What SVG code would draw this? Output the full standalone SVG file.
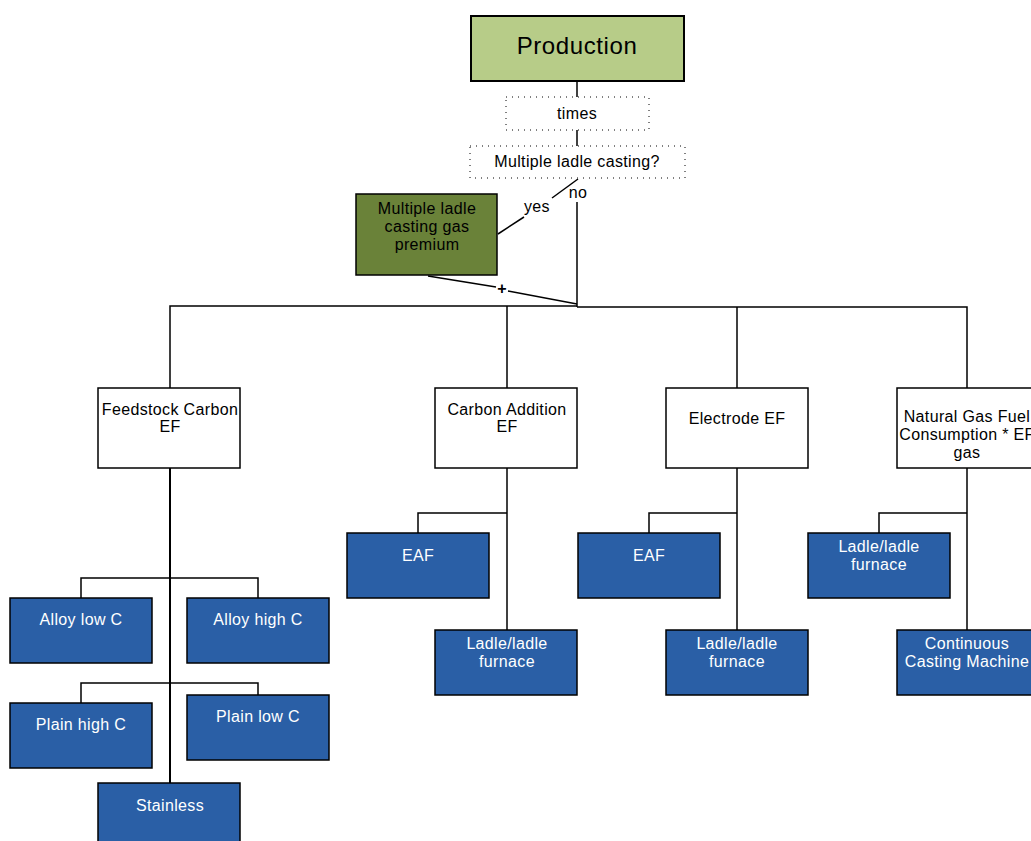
<svg xmlns="http://www.w3.org/2000/svg" width="1031" height="841" viewBox="0 0 1031 841">
  <style>
    text { font-family: "Liberation Sans", Arial, sans-serif; text-anchor: middle; }
    .lbl { font-size: 16px; letter-spacing: 0.35px; fill: #000; }
    .wlbl { font-size: 16px; letter-spacing: 0.35px; fill: #fff; }
    .white { fill: #fff; stroke: #000; stroke-width: 1.5; }
    .blue { fill: #2a5fa6; stroke: #000; stroke-width: 1.5; }
    .dotted { fill: #fff; stroke: #000; stroke-width: 1; stroke-dasharray: 1 5; }
    .wire { fill: none; stroke: #000; stroke-width: 1.5; }
  </style>
  <rect width="1031" height="841" fill="#fff"/>

  <!-- connectors -->
  <g id="connectors" class="wire">
    <line x1="577" y1="81" x2="577" y2="146"/>
    <line x1="578" y1="179" x2="552" y2="198"/>
    <line x1="524" y1="217" x2="498" y2="234"/>
    <line x1="577" y1="202" x2="577" y2="307"/>
    <line x1="428" y1="276" x2="496" y2="287"/>
    <line x1="508" y1="291" x2="577" y2="304"/>
    <polyline points="170,388 170,306 577,306"/>
    <polyline points="577,307 967,307 967,388"/>
    <line x1="507" y1="306" x2="507" y2="388"/>
    <line x1="737" y1="307" x2="737" y2="388"/>
    <!-- feedstock branches -->
    <line x1="170" y1="468" x2="170" y2="783" stroke-width="2"/>
    <polyline points="81,598 81,578 258,578 258,598"/>
    <polyline points="81,703 81,683 258,683 258,695"/>
    <!-- carbon addition branches -->
    <line x1="507" y1="468" x2="507" y2="630"/>
    <polyline points="418,533 418,513 507,513"/>
    <!-- electrode branches -->
    <line x1="737" y1="468" x2="737" y2="630"/>
    <polyline points="649,533 649,513 737,513"/>
    <!-- natural gas branches -->
    <line x1="967" y1="468" x2="967" y2="630"/>
    <polyline points="879,533 879,513 967,513"/>
  </g>
  <g id="edge-labels">
    <text class="lbl" x="537" y="212">yes</text>
    <text class="lbl" x="578" y="198">no</text>
    <text x="502" y="294" font-size="16" font-weight="bold">+</text>
  </g>

  <g id="production">
    <rect x="471" y="16" width="213" height="65" fill="#b7cc88" stroke="#000" stroke-width="2"/>
    <text x="577" y="54" font-size="24" letter-spacing="0.6">Production</text>
  </g>
  <g id="times">
    <rect class="dotted" x="506" y="97" width="143" height="33"/>
    <text class="lbl" x="577" y="119">times</text>
  </g>
  <g id="multiple-ladle">
    <rect class="dotted" x="470" y="146" width="215" height="32"/>
    <text class="lbl" x="577" y="167">Multiple ladle casting?</text>
  </g>
  <g id="gas-premium">
    <rect x="356" y="194" width="141" height="81" fill="#6a8239" stroke="#000" stroke-width="1.5"/>
    <text class="lbl" x="427" y="214">Multiple ladle</text>
    <text class="lbl" x="427" y="232">casting gas</text>
    <text class="lbl" x="427" y="250">premium</text>
  </g>

  <g id="feedstock">
    <rect class="white" x="98" y="388" width="142" height="80"/>
    <text class="lbl" x="170" y="415">Feedstock Carbon</text>
    <text class="lbl" x="170" y="432">EF</text>
  </g>
  <g id="carbon-addition">
    <rect class="white" x="435" y="388" width="142" height="80"/>
    <text class="lbl" x="507" y="415">Carbon Addition</text>
    <text class="lbl" x="507" y="432">EF</text>
  </g>
  <g id="electrode">
    <rect class="white" x="666" y="388" width="142" height="80"/>
    <text class="lbl" x="737" y="424">Electrode EF</text>
  </g>
  <g id="natural-gas">
    <rect class="white" x="897" y="388" width="142" height="80"/>
    <text class="lbl" x="967" y="422">Natural Gas Fuel</text>
    <text class="lbl" x="967" y="440">Consumption * EF</text>
    <text class="lbl" x="967" y="458">gas</text>
  </g>

  <g id="alloy-low">
    <rect class="blue" x="10" y="598" width="142" height="65"/>
    <text class="wlbl" x="81" y="625">Alloy low C</text>
  </g>
  <g id="alloy-high">
    <rect class="blue" x="187" y="598" width="142" height="65"/>
    <text class="wlbl" x="258" y="625">Alloy high C</text>
  </g>
  <g id="plain-high">
    <rect class="blue" x="10" y="703" width="142" height="65"/>
    <text class="wlbl" x="81" y="730">Plain high C</text>
  </g>
  <g id="plain-low">
    <rect class="blue" x="187" y="695" width="142" height="65"/>
    <text class="wlbl" x="258" y="722">Plain low C</text>
  </g>
  <g id="stainless">
    <rect class="blue" x="98" y="783" width="142" height="65"/>
    <text class="wlbl" x="170" y="811">Stainless</text>
  </g>

  <g id="ca-eaf">
    <rect class="blue" x="347" y="533" width="142" height="65"/>
    <text class="wlbl" x="418" y="561">EAF</text>
  </g>
  <g id="ca-ladle">
    <rect class="blue" x="435" y="630" width="142" height="65"/>
    <text class="wlbl" x="507" y="649">Ladle/ladle</text>
    <text class="wlbl" x="507" y="667">furnace</text>
  </g>
  <g id="el-eaf">
    <rect class="blue" x="578" y="533" width="142" height="65"/>
    <text class="wlbl" x="649" y="561">EAF</text>
  </g>
  <g id="el-ladle">
    <rect class="blue" x="666" y="630" width="142" height="65"/>
    <text class="wlbl" x="737" y="649">Ladle/ladle</text>
    <text class="wlbl" x="737" y="667">furnace</text>
  </g>
  <g id="ng-ladle">
    <rect class="blue" x="808" y="533" width="142" height="65"/>
    <text class="wlbl" x="879" y="552">Ladle/ladle</text>
    <text class="wlbl" x="879" y="570">furnace</text>
  </g>
  <g id="ng-ccm">
    <rect class="blue" x="897" y="630" width="142" height="65"/>
    <text class="wlbl" x="967" y="649">Continuous</text>
    <text class="wlbl" x="967" y="667">Casting Machine</text>
  </g>
</svg>
